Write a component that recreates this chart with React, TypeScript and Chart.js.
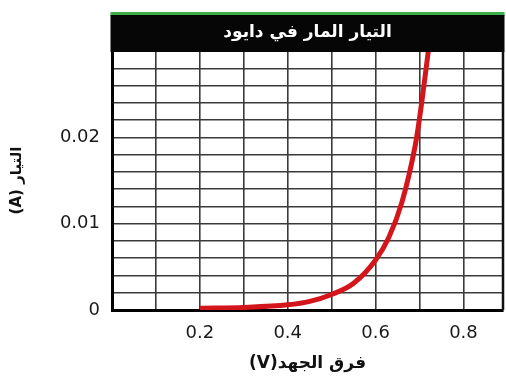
import React, { useEffect, useRef } from 'react';
import { Chart, registerables } from 'chart.js';

Chart.register(...registerables);

const TITLE = 'التيار المار في دايود';
const X_TITLE = 'فرق الجهد(V)';
const Y_TITLE = 'التيار (A)';

const voltage = [0.2, 0.3, 0.4, 0.45, 0.5, 0.55, 0.6, 0.63, 0.66, 0.69, 0.7, 0.71, 0.721];
const current = [0.0002, 0.0003, 0.0006, 0.001, 0.0018, 0.0031, 0.0058, 0.0084, 0.0125, 0.019, 0.0222, 0.026, 0.0304];

const xGridValues = [0, 0.1, 0.2, 0.3, 0.4, 0.5, 0.6, 0.7, 0.8, 0.89];
const xTickLabels = [0.2, 0.4, 0.6, 0.8];
const yTickLabels = [0, 0.01, 0.02];

const X_MIN = 0;
const X_MAX = 0.89;
const Y_MIN = 0;
const Y_MAX = 0.03;
const Y_STEP = 0.002;

const pick = (list: number[], v: number) => {
  const hit = list.find((t) => Math.abs(t - v) < 1e-7);
  return hit === undefined ? '' : String(hit);
};

export default function App() {
  const ref = useRef<HTMLCanvasElement>(null);

  useEffect(() => {
    const canvas = ref.current;
    if (!canvas) return;

    const titleBar = {
      id: 'titleBar',
      afterDraw(chart: any) {
        const { ctx, chartArea } = chart;
        const l = chartArea.left - 1.5;
        const r = chartArea.right + 1.5;
        ctx.save();
        ctx.fillStyle = '#3fae47';
        ctx.fillRect(l, 12, r - l, 4);
        ctx.fillStyle = '#060606';
        ctx.fillRect(l, 15, r - l, chartArea.top - 15 + 1);
        ctx.strokeStyle = '#111';
        ctx.lineWidth = 2.5;
        ctx.beginPath();
        ctx.moveTo(chartArea.right, chartArea.top);
        ctx.lineTo(chartArea.right, chartArea.bottom);
        ctx.stroke();
        ctx.fillStyle = '#ffffff';
        ctx.font = 'bold 17px "DejaVu Sans"';
        ctx.textAlign = 'center';
        ctx.textBaseline = 'middle';
        ctx.fillText(TITLE, (chartArea.left + chartArea.right) / 2, 33);
        ctx.restore();
      },
    };

    const chart = new Chart(canvas, {
      type: 'line',
      data: {
        datasets: [
          {
            data: voltage.map((v, i) => ({ x: v, y: current[i] })),
            borderColor: '#d3161b',
            borderWidth: 5,
            pointRadius: 0,
            cubicInterpolationMode: 'monotone',
            fill: false,
          },
        ],
      },
      options: {
        animation: false,
        responsive: false,
        layout: { padding: { top: 51, right: 3, left: 0, bottom: 0 } },
        plugins: {
          legend: { display: false },
          tooltip: { enabled: false },
          title: { display: false },
        },
        scales: {
          x: {
            type: 'linear',
            min: X_MIN,
            max: X_MAX,
            afterBuildTicks(s: any) {
              s.ticks = xGridValues.map((value) => ({ value }));
            },
            afterFit(s: any) {
              s.height = 71;
              s.paddingLeft = 0;
              s.paddingRight = 0;
            },
            ticks: {
              autoSkip: false,
              maxRotation: 0,
              padding: 13,
              color: '#1a1a1a',
              font: { family: '"DejaVu Sans"', size: 18 },
              callback: (v: any) => pick(xTickLabels, Number(v)),
            },
            grid: { color: '#3a3a3a', lineWidth: 1.6, drawTicks: false },
            border: { color: '#000', width: 3 },
            title: {
              display: true,
              text: X_TITLE,
              color: '#111',
              font: { family: '"DejaVu Sans"', size: 17, weight: 'bold' },
              padding: { top: 0, bottom: 7 },
            },
          },
          y: {
            type: 'linear',
            min: Y_MIN,
            max: Y_MAX,
            afterFit(s: any) {
              s.width = 112;
              s.paddingTop = 0;
              s.paddingBottom = 0;
            },
            ticks: {
              stepSize: Y_STEP,
              autoSkip: false,
              padding: 12,
              color: '#1a1a1a',
              font: { family: '"DejaVu Sans"', size: 18 },
              callback: (v: any) => pick(yTickLabels, Number(v)),
            },
            grid: { color: '#3a3a3a', lineWidth: 1.5, drawTicks: false },
            border: { color: '#000', width: 3 },
            title: {
              display: true,
              text: Y_TITLE,
              color: '#111',
              font: { family: '"DejaVu Sans"', size: 15, weight: 'bold' },
              padding: { top: 8, bottom: 0 },
            },
          },
        },
      },
      plugins: [titleBar],
    } as any);

    return () => chart.destroy();
  }, []);

  return (
    <div style={{ position: 'fixed', left: 0, top: 0, width: 506, height: 381, background: '#fff' }}>
      <canvas ref={ref} dir="rtl" width={506} height={381} style={{ display: 'block' }} />
    </div>
  );
}
